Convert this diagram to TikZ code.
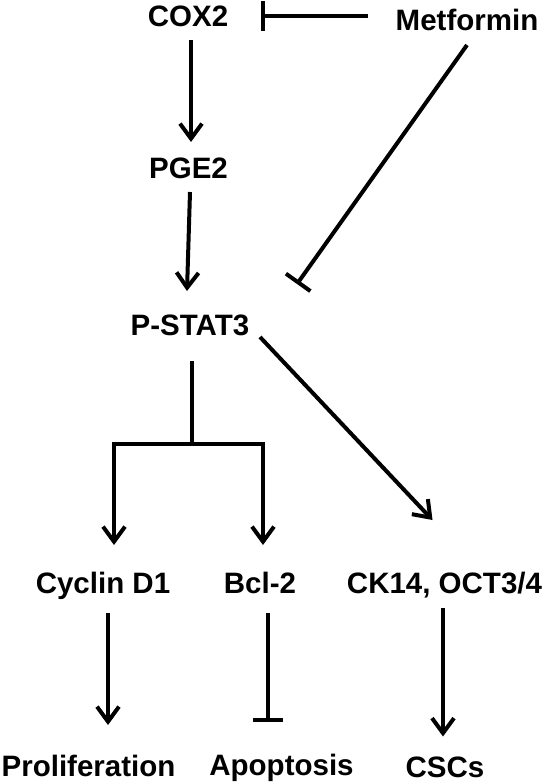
\documentclass[tikz,border=0pt]{standalone}
\usepackage{fontspec}
\setmainfont{Liberation Sans}
\usetikzlibrary{arrows.meta,calc}
\begin{document}
\begin{tikzpicture}[x=1pt,y=-1pt,
  lbl/.style={font=\fontsize{29.5}{34}\selectfont\bfseries, inner sep=0pt, text height=21pt, text depth=0pt, anchor=center},
  conn/.style={line width=4pt},
  arr/.style={conn,-{Straight Barb[length=15pt,width=22pt]}},
  inh/.style={conn,-{Bar[width=30pt]}}]
\useasboundingbox (0,0) rectangle (544,784);
\node[lbl] (cox2) at (188,16) {COX2};
\node[lbl] (met) at (467,20) {Metformin};
\node[lbl] (pge2) at (188.5,168) {PGE2};
\node[lbl] (pstat) at (190,325) {P-STAT3};
\node[lbl] (cyc) at (103,583) {Cyclin D1};
\node[lbl] (bcl) at (260,583) {Bcl-2};
\node[lbl] (ck) at (444.5,583) {CK14, OCT3/4};
\node[lbl] (prol) at (88.5,766) {Proliferation};
\node[lbl] (apo) at (281.5,764.5) {Apoptosis};
\node[lbl] (cscs) at (445,766.5) {CSCs};
% connectors
\draw[inh] ($(met)+(-99,-4)$) -- ($(cox2)+(73,0)$);
\draw[arr] ($(cox2)+(3,24)$) -- ($(pge2)+(2.5,-26)$);
\draw[arr] ($(pge2)+(1.5,24)$) -- ($(pstat)+(-3,-34)$);
\draw[inh] ($(met)+(0,25)$) -- ($(pstat)+(107,-41)$);
\coordinate (br) at ($(pstat)+(2,119)$);
\draw[conn] ($(pstat)+(2,36)$) -- (br);
\draw[arr] (br) -| ($(cyc)+(11,-38)$);
\draw[arr] (br) -| ($(bcl)+(3,-38)$);
\draw[arr] ($(pstat)+(70,12)$) -- ($(ck)+(-12,-63)$);
\draw[arr] ($(cyc)+(5,30)$) -- ($(prol)+(19.5,-41)$);
\draw[inh] ($(bcl)+(8,30)$) -- ($(apo)+(-13.5,-42.5)$);
\draw[arr] ($(ck)+(-1.5,25)$) -- ($(cscs)+(-2,-30)$);
\end{tikzpicture}
\end{document}
